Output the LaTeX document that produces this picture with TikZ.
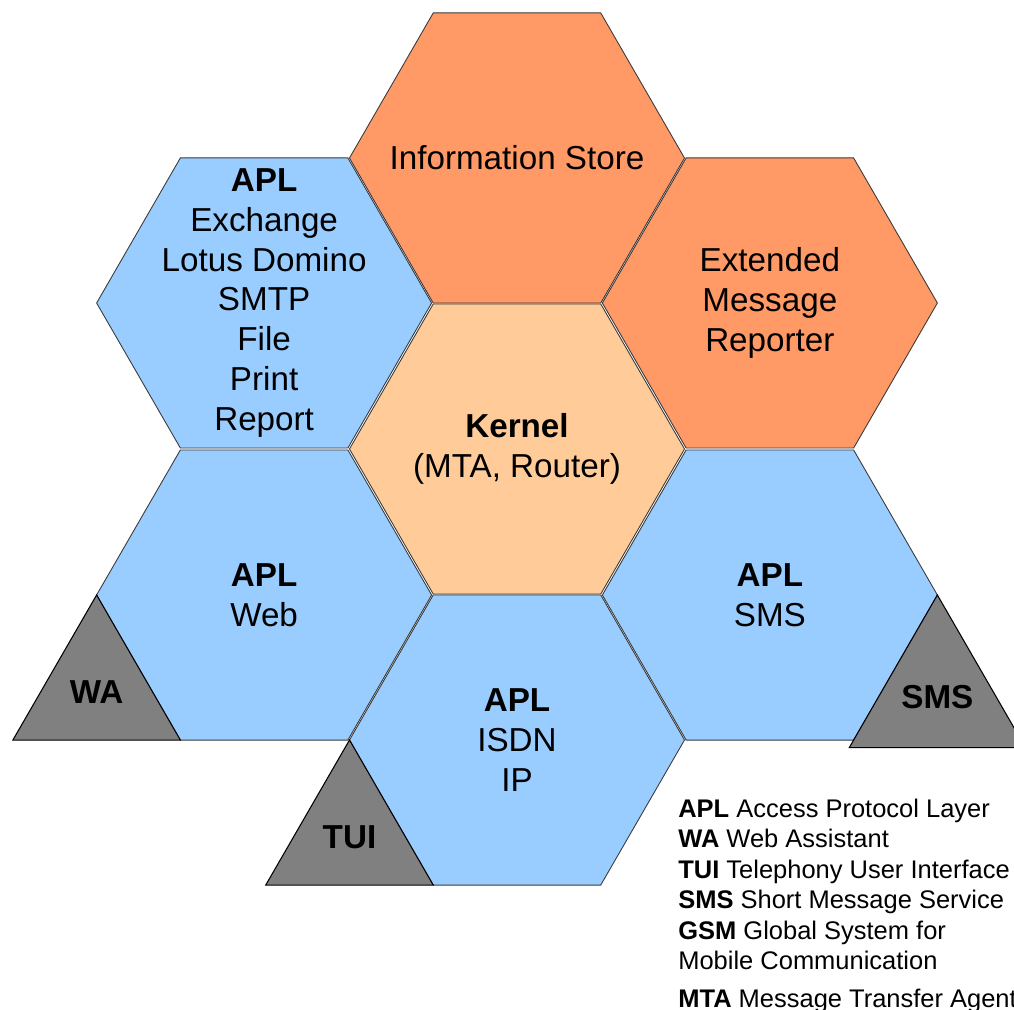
\documentclass[tikz,border=0pt]{standalone}
\usepackage{fontspec}
\setmainfont{Liberation Sans}
\definecolor{apl}{HTML}{99CCFF}
\definecolor{store}{HTML}{FF9966}
\definecolor{core}{HTML}{FFCC99}
\definecolor{client}{HTML}{808080}
\definecolor{rim}{HTML}{3A3A3A}
\usetikzlibrary{shapes.geometric, positioning}
\tikzset{
  hexa/.style={regular polygon, regular polygon sides=6, minimum size=6.7cm, inner sep=0pt,
               outer sep=0pt, draw=rim, line width=0.5pt},
  tri/.style={regular polygon, regular polygon sides=3, minimum size=3.87cm, inner sep=0pt,
              outer sep=0pt, fill=client, draw=black, line width=0.6pt,
              font=\fontsize{18.9}{22.7}\selectfont\bfseries},
  txt/.style={align=center, font=\fontsize{18.9}{22.7}\selectfont},
  key/.style={anchor=base west, inner sep=0pt, font=\fontsize{14.5}{17.3}\selectfont},
}
\begin{document}
\begin{tikzpicture}
  \useasboundingbox (-10.34,8.98) rectangle (9.94,-11.22);
  % honeycomb round the kernel
  \node[hexa, fill=core] (kernel) at (0,0) {};
  \node[hexa, fill=store] (store) at (90:5.82) {};
  \node[hexa, fill=store] (reporter) at (30:5.84) {};
  \node[hexa, fill=apl] (exchange) at (150:5.84) {};
  \node[hexa, fill=apl] (web) at (210:5.84) {};
  \node[hexa, fill=apl] (sms) at (-30:5.84) {};
  \node[hexa, fill=apl] (isdn) at (-90:5.82) {};
  \node[txt] (kerneltext) at (kernel) {\textbf{Kernel}\\(MTA, Router)};
  \node[txt] (storetext) at (store) {Information Store};
  \node[txt] (reportertext) at (reporter) {Extended\\Message\\Reporter};
  \node[txt] (exchangetext) at (exchange) {\textbf{APL}\\Exchange\\Lotus Domino\\SMTP\\File\\Print\\Report};
  \node[txt] (webtext) at (web) {\textbf{APL}\\Web};
  \node[txt] (smstext) at (sms) {\textbf{APL}\\SMS};
  \node[txt] (isdntext) at (isdn) {\textbf{APL}\\ISDN\\IP};
  % clients hanging off the outer corners (corner 3 = left tip, corner 6 = right tip)
  \node[tri, anchor=corner 1] (wa) at (web.corner 3) {WA};
  \node[tri, anchor=corner 1] (tui) at (isdn.corner 3) {TUI};
  \node[tri, anchor=corner 1] (smsc) at (sms.corner 6) {SMS};
  % abbreviations
  \foreach \y/\entry [count=\k] in {0/{\textbf{APL} Access Protocol Layer},
      1/{\textbf{WA} Web Assistant}, 2/{\textbf{TUI} Telephony User Interface},
      3/{\textbf{SMS} Short Message Service}, 4/{\textbf{GSM} Global System for},
      5/{Mobile Communication}, 6.26/{\textbf{MTA} Message Transfer Agent}}
    \node[key] (key\k) at (3.22,-7.36-0.61*\y) {\entry};
\end{tikzpicture}
\end{document}
